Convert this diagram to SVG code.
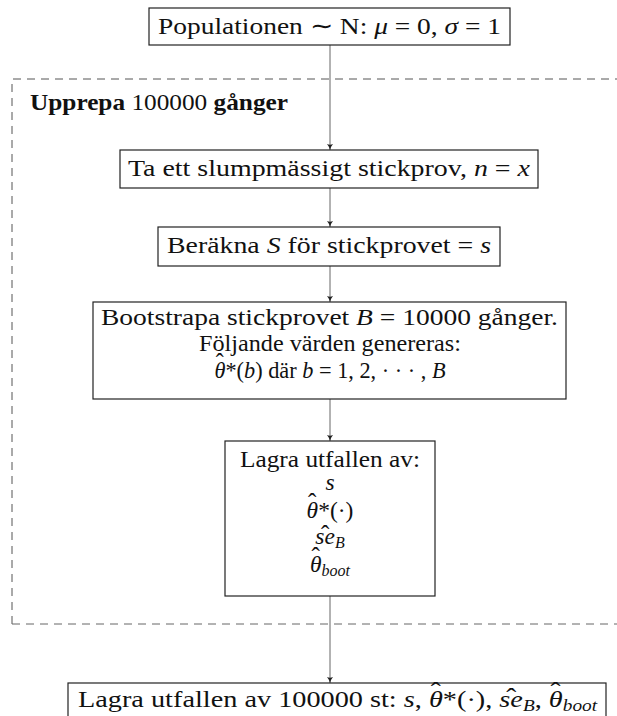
<svg xmlns="http://www.w3.org/2000/svg" width="617" height="716" viewBox="0 0 617 716">
<style>
  .t{font-family:"Liberation Serif","Times New Roman",serif;font-size:23.5px;fill:#111}
  .m{font-style:italic}
  .b{font-weight:bold}
  .h{font-size:25px;font-style:normal}
  .box{fill:#fff;stroke:#222;stroke-width:1.2}
  .con{stroke:#666;stroke-width:1;fill:none}
  .sub{font-size:16px}
</style>
<defs>
  <marker id="ah" markerWidth="8" markerHeight="8" refX="6" refY="4" orient="auto" markerUnits="userSpaceOnUse">
    <path d="M0,1 Q3,3.5 6,4 Q3,4.5 0,7 Q1.5,4 0,1Z" fill="#222"/>
  </marker>
</defs>
<rect width="617" height="716" fill="#fff"/>

<g id="loop">
  <path d="M12,624 L12,79 L617,79" fill="none" stroke="#555" stroke-width="1" stroke-dasharray="8 6"/>
  <path d="M12,624 L617,624" fill="none" stroke="#666" stroke-width="1" stroke-dasharray="8 6"/>
  <text class="t" x="30" y="110" textLength="258" lengthAdjust="spacingAndGlyphs"><tspan class="b">Upprepa</tspan> 100000 <tspan class="b">gånger</tspan></text>
</g>

<g id="connectors">
  <line class="con" x1="330" y1="45" x2="330" y2="150" marker-end="url(#ah)"/>
  <line class="con" x1="330" y1="188" x2="330" y2="227" marker-end="url(#ah)"/>
  <line class="con" x1="330" y1="266" x2="330" y2="302" marker-end="url(#ah)"/>
  <line class="con" x1="330" y1="399" x2="330" y2="441" marker-end="url(#ah)"/>
  <line class="con" x1="330" y1="596" x2="330" y2="683" marker-end="url(#ah)"/>
</g>

<g id="population">
  <rect class="box" x="149" y="8" width="361" height="37"/>
  <text class="t" x="329.5" y="34" text-anchor="middle" textLength="343" lengthAdjust="spacingAndGlyphs">Populationen ∼ N: <tspan class="m">μ</tspan> = 0, <tspan class="m">σ</tspan> = 1</text>
</g>

<g id="sample">
  <rect class="box" x="120" y="150" width="418" height="38"/>
  <text class="t" x="329" y="176" text-anchor="middle" textLength="402" lengthAdjust="spacingAndGlyphs">Ta ett slumpmässigt stickprov, <tspan class="m">n</tspan> = <tspan class="m">x</tspan></text>
</g>

<g id="compute">
  <rect class="box" x="158" y="227" width="342" height="39"/>
  <text class="t" x="329" y="253" text-anchor="middle" textLength="324" lengthAdjust="spacingAndGlyphs">Beräkna <tspan class="m">S</tspan> för stickprovet = <tspan class="m">s</tspan></text>
</g>

<g id="bootstrap">
  <rect class="box" x="93" y="302" width="473" height="97"/>
  <text class="t" x="329.5" y="325" text-anchor="middle" textLength="457" lengthAdjust="spacingAndGlyphs">Bootstrapa stickprovet <tspan class="m">B</tspan> = 10000 gånger.</text>
  <text class="t" x="330" y="351" text-anchor="middle" textLength="262" lengthAdjust="spacingAndGlyphs">Följande värden genereras:</text>
  <text class="t" x="330" y="378" text-anchor="middle" textLength="231" lengthAdjust="spacingAndGlyphs"><tspan class="m">θ</tspan><tspan class="h" dx="-10.1" dy="-7.5">ˆ</tspan><tspan dx="1.8" dy="7.5">*(</tspan><tspan class="m">b</tspan>) där <tspan class="m">b</tspan> = 1, 2, · · · , <tspan class="m">B</tspan></text>
</g>

<g id="store">
  <rect class="box" x="225" y="441" width="210" height="155"/>
  <text class="t" x="330" y="467" text-anchor="middle" textLength="180" lengthAdjust="spacingAndGlyphs">Lagra utfallen av:</text>
  <text class="t m" x="330" y="490" text-anchor="middle">s</text>
  <text class="t" x="330" y="518" text-anchor="middle"><tspan class="m">θ</tspan><tspan class="h" dx="-10.1" dy="-7.5">ˆ</tspan><tspan dx="1.8" dy="7.5">*(·)</tspan></text>
  <text class="t" x="330" y="544" text-anchor="middle"><tspan class="m">se</tspan><tspan class="h" dx="-13.9" dy="-1">ˆ</tspan><tspan class="m sub" dx="5.6" dy="5">B</tspan></text>
  <text class="t" x="330" y="572" text-anchor="middle"><tspan class="m">θ</tspan><tspan class="h" dx="-10.1" dy="-7.5">ˆ</tspan><tspan class="m sub" dx="1.8" dy="11.5">boot</tspan></text>
</g>

<g id="result">
  <rect class="box" x="68" y="683" width="538" height="40"/>
  <text class="t" x="78" y="707" textLength="519" lengthAdjust="spacingAndGlyphs">Lagra utfallen av 100000 st: <tspan class="m">s</tspan>, <tspan class="m">θ</tspan><tspan class="h" dx="-10.1" dy="-7.5">ˆ</tspan><tspan dx="1.8" dy="7.5">*(·), </tspan><tspan class="m">se</tspan><tspan class="h" dx="-13.9" dy="-1">ˆ</tspan><tspan class="m sub" dx="5.6" dy="5">B</tspan><tspan dy="-4">, </tspan><tspan class="m">θ</tspan><tspan class="h" dx="-10.1" dy="-7.5">ˆ</tspan><tspan class="m sub" dx="1.8" dy="11.5">boot</tspan></text>
</g>
</svg>
